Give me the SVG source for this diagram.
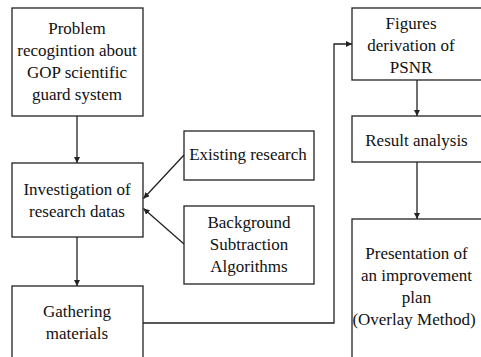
<svg xmlns="http://www.w3.org/2000/svg" width="481" height="357" viewBox="0 0 481 357">
<style>
.box{fill:#fff;stroke:#222;stroke-width:1.3}
.t{font-family:'Liberation Serif','Times New Roman',serif;font-size:17px;fill:#111;text-anchor:middle}
.c{fill:none;stroke:#222;stroke-width:1.3}
</style>
<defs>
<marker id="ah" viewBox="0 0 10 10" refX="10" refY="5" markerWidth="6" markerHeight="6" markerUnits="userSpaceOnUse" orient="auto">
<path d="M0,0 L10,5 L0,10 z" fill="#222"/>
</marker>
</defs>
<rect width="481" height="357" fill="#fff"/>
<g id="connectors">
<line class="c" x1="77" y1="116" x2="77" y2="163" marker-end="url(#ah)"/>
<line class="c" x1="77" y1="237" x2="77" y2="286" marker-end="url(#ah)"/>
<line class="c" x1="184" y1="155" x2="143.5" y2="198.5" marker-end="url(#ah)"/>
<line class="c" x1="184" y1="244" x2="143.5" y2="208.5" marker-end="url(#ah)"/>
<polyline class="c" points="143,323 334,323 334,44 352,44" marker-end="url(#ah)"/>
<line class="c" x1="417" y1="80" x2="417" y2="116" marker-end="url(#ah)"/>
<line class="c" x1="417" y1="162" x2="417" y2="219" marker-end="url(#ah)"/>
</g>
<g id="problem">
<rect class="box" x="12" y="8" width="131" height="108"/>
<text class="t" x="77" y="34">Problem</text>
<text class="t" x="77" y="56">recogintion about</text>
<text class="t" x="77" y="78">GOP scientific</text>
<text class="t" x="77" y="100">guard system</text>
</g>
<g id="investigation">
<rect class="box" x="12" y="163" width="131" height="74"/>
<text class="t" x="77" y="195">Investigation of</text>
<text class="t" x="77" y="217">research datas</text>
</g>
<g id="gathering">
<rect class="box" x="12" y="286" width="131" height="80"/>
<text class="t" x="77" y="317">Gathering</text>
<text class="t" x="77" y="339">materials</text>
</g>
<g id="existing">
<rect class="box" x="184" y="131" width="130" height="49"/>
<text class="t" x="248" y="160">Existing research</text>
</g>
<g id="background">
<rect class="box" x="184" y="206" width="130" height="78"/>
<text class="t" x="249" y="228">Background</text>
<text class="t" x="249" y="250">Subtraction</text>
<text class="t" x="249" y="272">Algorithms</text>
</g>
<g id="figures">
<rect class="box" x="352" y="8" width="131" height="72"/>
<text class="t" x="411" y="29">Figures</text>
<text class="t" x="411" y="51">derivation of</text>
<text class="t" x="411" y="73">PSNR</text>
</g>
<g id="result">
<rect class="box" x="352" y="116" width="131" height="46"/>
<text class="t" x="416.5" y="146">Result analysis</text>
</g>
<g id="presentation">
<rect class="box" x="352" y="219" width="131" height="150"/>
<text class="t" x="416.5" y="259">Presentation of</text>
<text class="t" x="416.5" y="281">an improvement</text>
<text class="t" x="416.5" y="303">plan</text>
<text class="t" x="414" y="325">(Overlay Method)</text>
</g>
</svg>
